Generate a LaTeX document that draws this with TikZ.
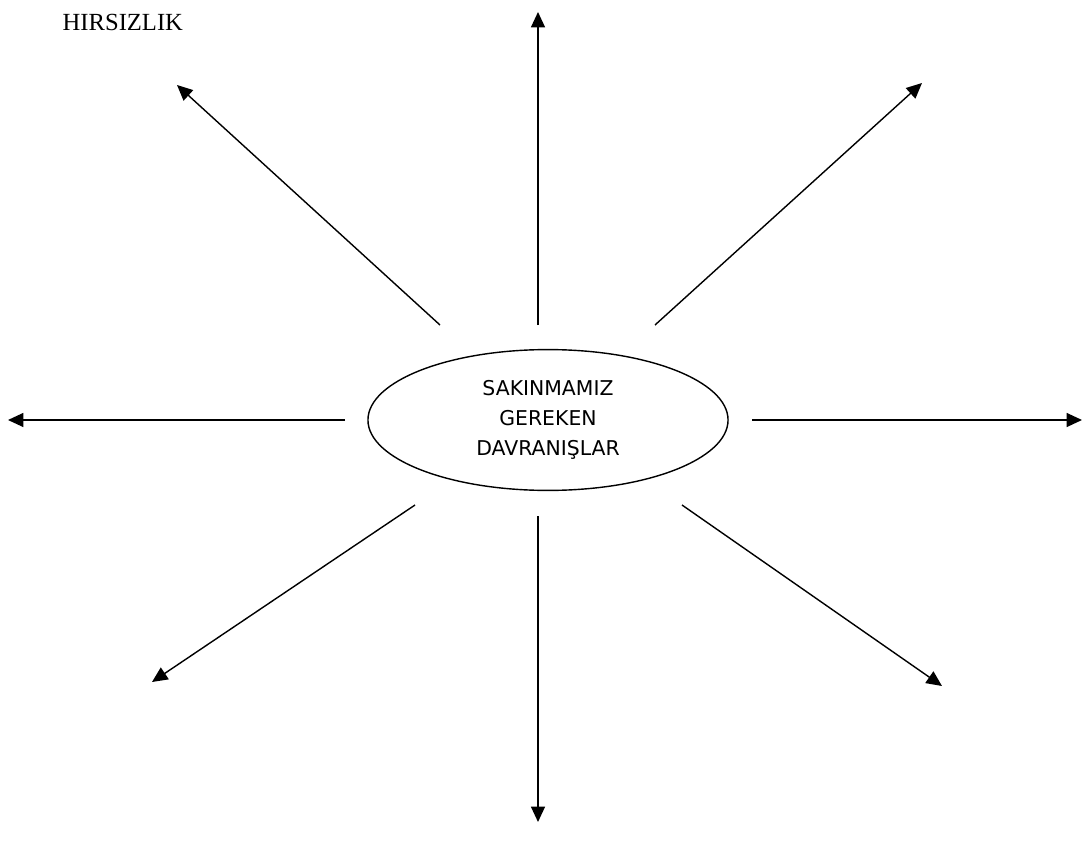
\documentclass[tikz,border=0pt]{standalone}
\usepackage{fontspec}
\setmainfont{Liberation Serif}
\newfontfamily\ovalfont{DejaVu Sans}
\usetikzlibrary{shapes.geometric,arrows.meta}
\begin{document}
\begin{tikzpicture}[x=0.025cm, y=-0.025cm, >={Triangle[length=11pt,width=10pt]}, line width=1pt]
  \useasboundingbox (0,0) rectangle (1086,854);
  % orta elips
  \node[draw, ellipse, inner sep=0pt, minimum width=9cm, minimum height=3.52cm,
        font=\ovalfont\fontsize{14.5}{21.3}\selectfont, align=center] (dav) at (548,420)
        {SAKINMAMIZ\\GEREKEN\\DAVRANIŞLAR};
  % etiket
  \node[anchor=base west, inner sep=0pt, font=\fontsize{17.5}{20}\selectfont] (hirs) at (62,31) {HIRSIZLIK};
  % dışa giden oklar
  \foreach \i/\sx/\sy/\ex/\ey in {1/538/325/538/12, 2/440/325/177/85, 3/655/325/922/83,
      4/345/420/8/420, 5/752/420/1082/420, 6/415/505/152/682, 7/538/516/538/822, 8/682/505/942/686}{
    \coordinate (a\i) at (\sx,\sy);
    \coordinate (b\i) at (\ex,\ey);
    \draw[->] (a\i) -- (b\i);
  }
\end{tikzpicture}
\end{document}
